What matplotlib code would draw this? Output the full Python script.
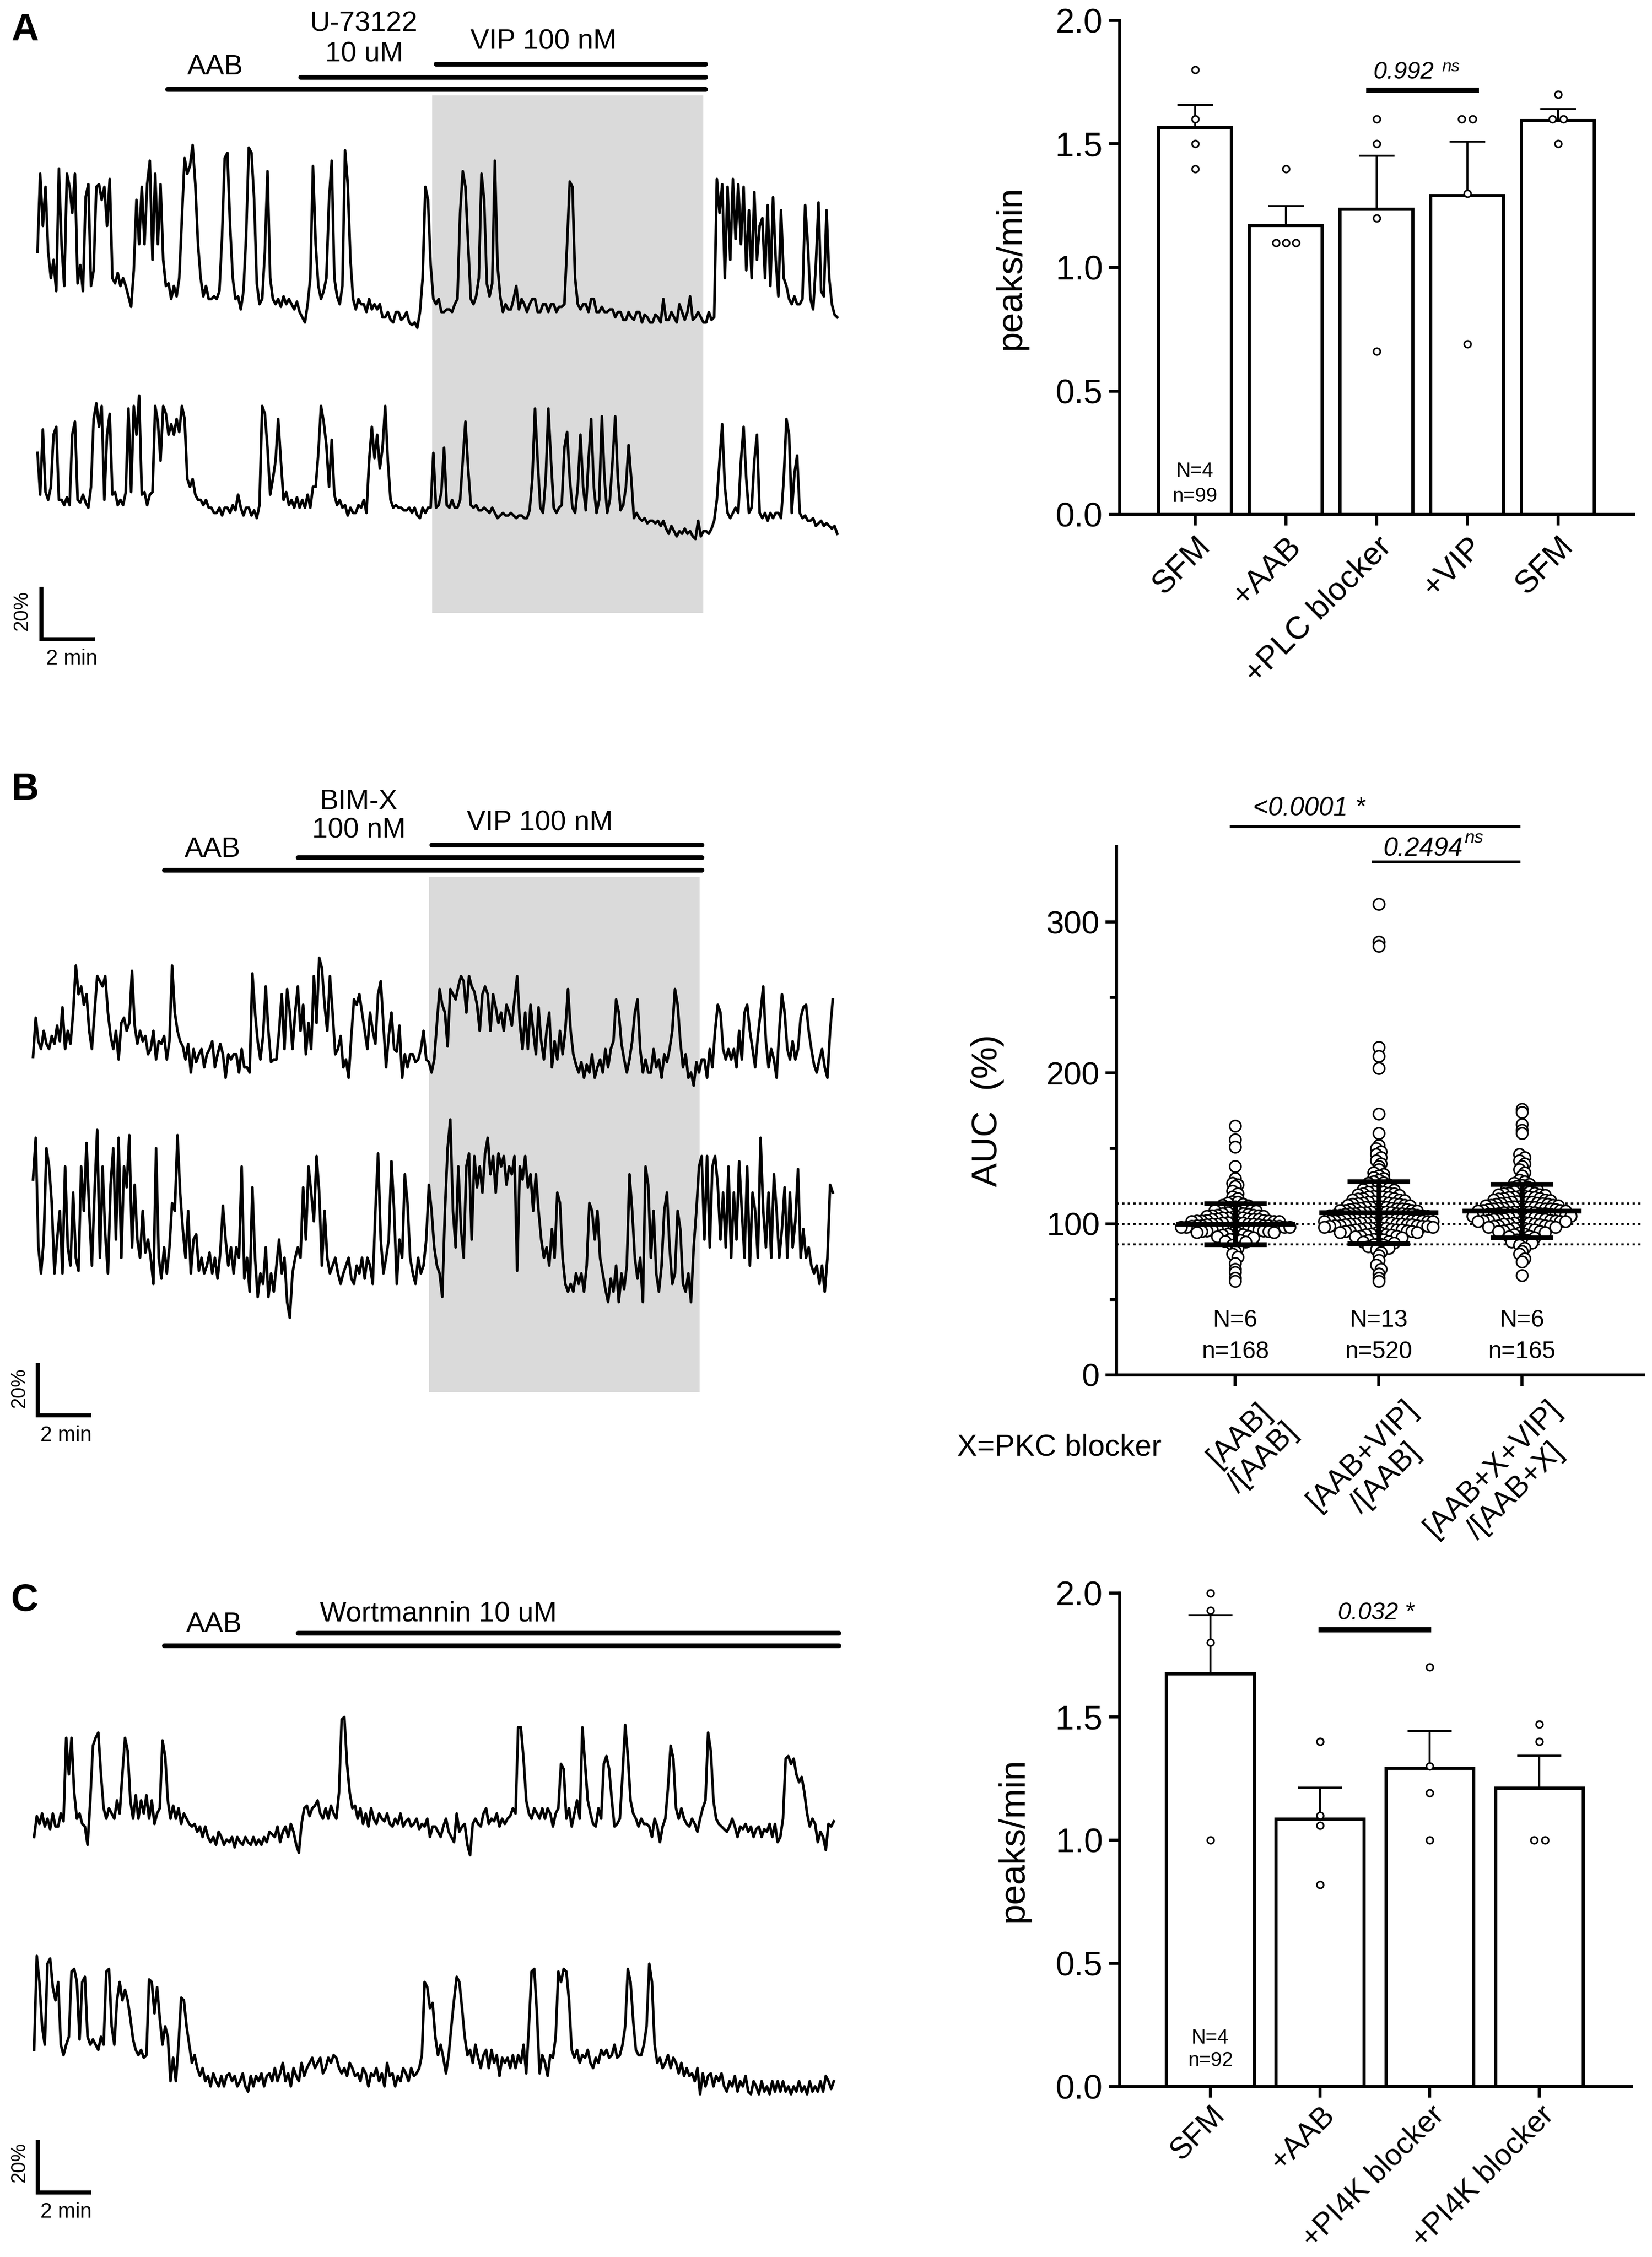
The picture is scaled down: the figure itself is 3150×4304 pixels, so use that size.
import numpy as np
import matplotlib
matplotlib.use('Agg')
import matplotlib.pyplot as plt
from matplotlib.transforms import blended_transform_factory, ScaledTranslation

plt.rcParams['font.family'] = ['Liberation Sans', 'DejaVu Sans']

# ---------------- calcium traces (% change, one sample every 0.1 min) ----------------
DT = 0.1

a_top = [30, 60, 40, 55, 30, 20, 27, 15, 62, 33,
         17, 60, 55, 45, 60, 18, 25, 15, 51, 56,
         17, 23, 55, 56, 50, 55, 40, 58, 20, 18,
         22, 17, 20, 17, 13, 9, 23, 50, 33, 55,
         33, 56, 65, 27, 60, 33, 56, 27, 17, 18,
         12, 17, 13, 20, 43, 66, 60, 63, 71, 56,
         33, 20, 13, 17, 12, 12, 13, 12, 15, 36,
         66, 68, 40, 20, 12, 13, 8, 15, 36, 70,
         68, 50, 18, 10, 12, 30, 61, 20, 12, 10,
         12, 9, 13, 10, 12, 10, 8, 11, 7, 5,
         3, 10, 20, 63, 33, 17, 12, 15, 20, 50,
         65, 20, 13, 10, 17, 69, 56, 27, 12, 8,
         12, 10, 10, 7, 12, 8, 10, 8, 10, 5,
         5, 7, 4, 3, 7, 7, 4, 5, 7, 3,
         2, 3, 1, 7, 20, 55, 50, 25, 12, 10,
         12, 7, 7, 8, 8, 7, 10, 12, 45, 61,
         55, 33, 12, 10, 13, 20, 60, 50, 18, 13,
         18, 65, 25, 13, 7, 10, 8, 8, 12, 17,
         8, 12, 10, 7, 10, 12, 12, 7, 7, 10,
         10, 7, 10, 10, 7, 9, 9, 10, 33, 57,
         55, 20, 10, 8, 10, 10, 7, 12, 12, 7,
         7, 9, 7, 7, 8, 8, 5, 7, 7, 4,
         4, 7, 5, 4, 7, 7, 3, 6, 5, 3,
         3, 6, 5, 3, 12, 4, 4, 7, 5, 3,
         10, 7, 4, 7, 13, 4, 5, 7, 5, 3,
         3, 7, 4, 5, 58, 45, 56, 20, 55, 27,
         58, 35, 56, 33, 55, 23, 46, 20, 53, 27,
         40, 43, 20, 48, 17, 51, 27, 13, 46, 20,
         17, 12, 10, 13, 10, 10, 12, 48, 33, 12,
         8, 25, 49, 15, 13, 46, 20, 10, 6, 5]

a_bottom = [33, 17, 42, 18, 15, 20, 40, 43, 15, 15,
            13, 16, 13, 40, 45, 15, 14, 17, 14, 12,
            20, 46, 52, 43, 51, 15, 40, 48, 17, 18,
            13, 15, 13, 18, 50, 18, 51, 40, 55, 17,
            18, 13, 17, 18, 51, 45, 30, 51, 48, 40,
            44, 40, 46, 41, 51, 46, 23, 20, 23, 17,
            15, 15, 13, 15, 12, 12, 10, 10, 12, 9,
            12, 12, 10, 13, 11, 17, 12, 9, 12, 12,
            9, 11, 8, 13, 51, 48, 35, 17, 23, 30,
            46, 30, 15, 18, 13, 15, 12, 16, 12, 15,
            12, 17, 12, 20, 20, 33, 51, 45, 36, 20,
            38, 17, 13, 15, 12, 13, 9, 12, 10, 10,
            13, 12, 15, 10, 30, 43, 31, 40, 27, 35,
            51, 30, 15, 12, 13, 12, 12, 11, 11, 12,
            10, 12, 9, 8, 12, 10, 12, 12, 33, 12,
            13, 18, 35, 13, 12, 15, 12, 12, 15, 30,
            45, 27, 13, 12, 13, 11, 11, 12, 11, 10,
            12, 10, 8, 9, 10, 9, 9, 10, 9, 8,
            9, 9, 8, 8, 11, 23, 50, 30, 12, 10,
            23, 50, 30, 12, 10, 12, 13, 35, 41, 23,
            12, 10, 20, 40, 20, 11, 30, 46, 20, 10,
            15, 47, 23, 10, 15, 30, 47, 23, 11, 13,
            20, 36, 23, 8, 10, 8, 7, 8, 6, 7,
            7, 6, 7, 5, 7, 4, 2, 5, 3, 1,
            3, 2, 4, 2, 3, 1, 0, 7, 1, 3,
            3, 2, 4, 7, 15, 30, 44, 20, 10, 8,
            10, 12, 10, 30, 43, 23, 10, 12, 30, 40,
            10, 8, 10, 7, 10, 8, 10, 10, 8, 23,
            46, 40, 10, 25, 32, 10, 8, 9, 7, 7,
            8, 5, 6, 7, 5, 6, 5, 4, 5, 2]

b_top = [11, 26, 17, 14, 21, 16, 14, 19, 16, 23,
         17, 30, 14, 21, 16, 28, 46, 35, 38, 31,
         35, 21, 14, 28, 42, 40, 38, 42, 28, 19,
         14, 21, 10, 24, 26, 21, 24, 44, 23, 16,
         21, 17, 19, 12, 14, 21, 10, 17, 16, 19,
         10, 17, 46, 28, 21, 17, 15, 10, 16, 5,
         14, 9, 12, 14, 7, 12, 14, 17, 7, 12,
         16, 12, 3, 12, 10, 12, 12, 5, 14, 7,
         7, 5, 43, 28, 17, 10, 19, 38, 21, 9,
         10, 10, 21, 35, 14, 37, 28, 14, 28, 38,
         21, 31, 12, 24, 14, 42, 24, 49, 45, 31,
         21, 42, 28, 12, 14, 19, 7, 10, 3, 19,
         33, 31, 35, 28, 21, 14, 28, 21, 16, 35,
         40, 23, 7, 19, 28, 14, 13, 23, 3, 12,
         7, 12, 12, 9, 10, 14, 21, 10, 9, 5,
         10, 24, 37, 31, 28, 15, 37, 35, 33, 38,
         42, 40, 28, 42, 38, 36, 31, 21, 35, 38,
         35, 21, 35, 30, 24, 28, 21, 31, 28, 23,
         33, 42, 24, 14, 28, 14, 31, 21, 12, 30,
         17, 10, 21, 28, 7, 17, 10, 21, 12, 21,
         37, 21, 12, 8, 5, 9, 3, 8, 5, 12,
         3, 7, 10, 5, 14, 7, 14, 17, 33, 28,
         16, 10, 5, 10, 17, 28, 33, 14, 5, 10,
         5, 5, 14, 7, 10, 3, 12, 9, 14, 21,
         37, 31, 17, 7, 12, 3, 5, 0, 9, 5,
         10, 10, 3, 14, 7, 21, 31, 28, 14, 10,
         14, 10, 14, 7, 21, 10, 28, 31, 21, 14,
         7, 19, 28, 38, 17, 7, 14, 10, 3, 21,
         35, 28, 14, 10, 17, 10, 14, 26, 30, 31,
         21, 14, 8, 5, 10, 14, 7, 3, 21, 33]

b_bottom = [53, 69, 27, 17, 30, 65, 58, 44, 17, 30,
            41, 17, 58, 27, 20, 48, 23, 18, 58, 41,
            67, 41, 20, 48, 72, 23, 58, 32, 17, 51,
            65, 30, 69, 23, 58, 50, 70, 27, 51, 30,
            23, 41, 25, 30, 23, 13, 65, 23, 15, 27,
            17, 27, 44, 41, 70, 48, 34, 23, 41, 17,
            30, 32, 18, 23, 17, 20, 25, 17, 23, 15,
            25, 43, 30, 20, 27, 17, 27, 23, 58, 15,
            23, 10, 50, 23, 8, 17, 13, 27, 8, 17,
            10, 20, 30, 17, 23, 6, 0, 17, 23, 27,
            23, 50, 30, 58, 48, 37, 62, 48, 20, 41,
            23, 17, 20, 23, 17, 13, 17, 20, 23, 15,
            13, 20, 17, 23, 15, 23, 20, 13, 41, 63,
            30, 17, 23, 30, 60, 41, 13, 30, 23, 55,
            44, 23, 17, 13, 23, 17, 20, 30, 51, 41,
            27, 20, 17, 8, 41, 65, 76, 41, 27, 58,
            34, 23, 58, 63, 30, 62, 50, 58, 48, 63,
            69, 55, 62, 48, 63, 58, 62, 51, 58, 55,
            62, 18, 58, 53, 62, 50, 55, 41, 55, 41,
            30, 23, 27, 20, 34, 23, 48, 44, 23, 13,
            10, 13, 10, 17, 13, 17, 10, 20, 44, 41,
            30, 41, 23, 17, 11, 6, 15, 10, 20, 6,
            17, 11, 20, 55, 41, 23, 15, 23, 6, 58,
            51, 23, 41, 17, 10, 20, 41, 48, 27, 13,
            17, 41, 34, 13, 10, 17, 6, 27, 41, 58,
            62, 30, 62, 27, 58, 62, 51, 30, 48, 27,
            58, 23, 48, 30, 60, 41, 23, 58, 20, 48,
            41, 23, 69, 41, 27, 48, 23, 55, 41, 23,
            34, 50, 23, 48, 27, 37, 57, 23, 34, 23,
            27, 20, 17, 20, 13, 20, 10, 23, 51, 48]

c_top = [6, 14, 11, 15, 10, 13, 9, 15, 10, 10,
         15, 12, 44, 30, 44, 23, 13, 15, 11, 10,
         3, 20, 41, 44, 46, 30, 17, 13, 17, 15,
         13, 20, 15, 30, 44, 39, 20, 13, 22, 13,
         20, 15, 22, 13, 20, 11, 15, 17, 43, 37,
         20, 13, 18, 13, 17, 11, 15, 13, 11, 10,
         11, 8, 10, 6, 10, 6, 4, 6, 3, 8,
         6, 3, 5, 4, 6, 2, 6, 4, 3, 6,
         4, 3, 6, 3, 5, 3, 6, 4, 8, 7,
         6, 10, 4, 8, 10, 6, 11, 8, 3, 0,
         11, 17, 18, 14, 17, 18, 20, 15, 13, 17,
         13, 18, 15, 13, 23, 51, 52, 34, 23, 17,
         18, 13, 17, 11, 15, 10, 17, 13, 11, 15,
         13, 12, 15, 11, 10, 13, 11, 15, 10, 12,
         13, 10, 11, 13, 9, 11, 10, 13, 6, 10,
         10, 8, 6, 10, 13, 8, 6, 4, 15, 8,
         10, 11, 3, -1, 11, 13, 11, 10, 15, 17,
         11, 13, 12, 15, 10, 13, 11, 13, 14, 17,
         15, 48, 48, 36, 20, 15, 13, 17, 15, 13,
         17, 13, 17, 15, 10, 15, 17, 34, 32, 13,
         17, 10, 15, 20, 13, 48, 34, 20, 15, 11,
         10, 17, 13, 34, 37, 32, 20, 10, 11, 13,
         30, 49, 37, 20, 15, 13, 10, 13, 11, 11,
         10, 6, 13, 10, 4, 10, 13, 25, 41, 36,
         17, 13, 17, 13, 11, 10, 13, 11, 8, 13,
         17, 20, 46, 39, 20, 13, 11, 10, 9, 8,
         10, 13, 10, 6, 10, 9, 11, 8, 10, 6,
         9, 10, 6, 9, 8, 11, 6, 11, 4, 6,
         13, 36, 37, 34, 36, 30, 27, 29, 23, 15,
         10, 13, 11, 4, 8, 6, 1, 11, 10, 12]

c_bottom = [19, 55, 45, 28, 21, 52, 54, 43, 38, 45,
            21, 17, 21, 24, 49, 50, 45, 23, 45, 47,
            24, 21, 23, 21, 19, 24, 21, 49, 50, 28,
            21, 38, 45, 38, 42, 38, 31, 23, 19, 17,
            19, 16, 17, 46, 45, 33, 43, 31, 21, 28,
            24, 7, 16, 7, 21, 39, 38, 28, 21, 14,
            17, 12, 9, 12, 7, 9, 5, 10, 7, 5,
            9, 5, 9, 10, 7, 9, 5, 7, 10, 5,
            3, 9, 5, 9, 7, 10, 5, 9, 10, 7,
            12, 7, 10, 14, 7, 10, 5, 12, 9, 7,
            14, 9, 12, 14, 16, 12, 14, 16, 10, 12,
            16, 14, 17, 16, 12, 10, 12, 9, 14, 12,
            9, 10, 7, 12, 10, 5, 10, 9, 12, 7,
            10, 5, 14, 9, 10, 5, 9, 7, 12, 10,
            7, 12, 9, 10, 12, 17, 45, 43, 35, 37,
            24, 17, 21, 16, 10, 17, 28, 38, 47, 45,
            35, 24, 17, 19, 14, 21, 16, 12, 17, 19,
            12, 19, 14, 17, 9, 16, 14, 16, 12, 17,
            12, 17, 14, 21, 10, 28, 49, 50, 33, 10,
            17, 14, 9, 17, 16, 24, 49, 45, 50, 49,
            38, 19, 16, 19, 14, 17, 16, 19, 14, 12,
            16, 14, 19, 17, 19, 16, 17, 21, 16, 17,
            21, 28, 50, 45, 30, 19, 17, 17, 21, 28,
            52, 45, 21, 14, 16, 12, 14, 17, 12, 16,
            14, 10, 14, 9, 12, 9, 10, 7, 12, 2,
            10, 5, 9, 10, 5, 9, 7, 10, 5, 3,
            7, 5, 9, 3, 7, 5, 9, 3, 2, 7,
            5, 2, 7, 3, 5, 2, 7, 3, 7, 3,
            7, 3, 5, 2, 5, 3, 7, 3, 5, 2,
            7, 3, 5, 3, 7, 3, 9, 7, 4, 7]

# drug application start times (min); all run to the end time
a_starts = [4.85, 9.83, 14.9]
a_end = 24.97
b_starts = [4.91, 9.9, 14.9]
b_end = 25.0
c_starts = [4.87, 9.86]
c_end = 30.07
a_shade = (14.75, 24.9)
b_shade = (14.81, 24.92)

# ---------------- bar charts ----------------
a_labels = ['SFM', '+AAB', '+PLC blocker', '+VIP', 'SFM']
a_mean = [1.567, 1.169, 1.235, 1.291, 1.594]
a_sem = [0.091, 0.080, 0.217, 0.219, 0.046]
a_pts = [[1.8, 1.6, 1.5, 1.4], [1.4, 1.1, 1.1, 1.1], [1.6, 1.5, 1.2, 0.66],
         [1.6, 1.6, 1.3, 0.69], [1.7, 1.6, 1.6, 1.5]]

c_labels = ['SFM', '+AAB', '+PI4K blocker', '+PI4K blocker']
c_mean = [1.673, 1.084, 1.290, 1.211]
c_sem = [0.239, 0.129, 0.152, 0.130]
c_pts = [[2.0, 1.93, 1.8, 1.0], [1.4, 1.1, 1.06, 0.82], [1.7, 1.3, 1.19, 1.0],
         [1.47, 1.4, 1.0, 1.0]]

# ---------------- AUC scatter ----------------
b_labels = ['[AAB]\n/[AAB]', '[AAB+VIP]\n/[AAB]', '[AAB+X+VIP]\n/[AAB+X]']
b_N = ['N=6', 'N=13', 'N=6']
b_n = ['n=168', 'n=520', 'n=165']
b_mean = [100.0, 107.5, 108.6]
b_sd = [13.5, 20.5, 17.8]
b_g1 = [165, 156, 151, 138, 130, 127, 126, 125, 122, 120, 118, 117,
        115, 114.5, 114, 113, 112.5, 112,
        111.5, 111, 110.5, 110, 110, 109.5, 109, 109, 108.5,
        108, 108, 107.5, 107, 107, 106.5, 106, 106, 105.5, 105.5, 105, 105,
        104.5, 104.5, 104, 104, 104, 103.5, 103.5, 103, 103, 103, 102.5, 102.5,
        102, 102, 102, 101.5, 101.5, 101.5,
        101, 101, 101, 100.5, 100.5, 100, 100, 100, 100, 99.5, 99.5, 99, 99, 99,
        99, 98.5, 98.5, 98.5, 98, 98, 98, 98,
        97.5, 97.5, 97, 97, 97, 96.5, 96.5, 96, 96, 96, 95.5, 95.5, 95, 95, 94.5, 94.5,
        94, 94, 93.5, 93, 92.5, 92, 91.5, 91,
        90.5, 90, 89, 88.5, 88,
        86, 84, 82, 80, 78, 74, 70, 68, 64, 62]
b_g2 = [312, 287, 284, 217, 211, 203, 173, 160, 152, 150, 148, 146, 144, 142, 140, 138,
        136, 134, 133, 132, 131, 130,
        129, 128, 127.5, 127, 126,
        125.5, 125, 124.5, 124, 123.5, 123, 122.5,
        122, 121.5, 121, 121, 120.5, 120, 120, 119.5, 119,
        118.5, 118.5, 118, 118, 117.5, 117, 117, 116.5, 116, 116, 115.5,
        115, 115, 114.5, 114.5, 114, 114, 113.5, 113.5, 113, 113, 112.5, 112.5, 112,
        111.5, 111.5, 111, 111, 111, 110.5, 110.5, 110, 110, 110, 109.5, 109.5, 109, 109,
        109, 108.5,
        108, 108, 108, 108, 107.5, 107.5, 107.5, 107, 107, 107, 107, 106.5, 106.5, 106.5,
        106, 106, 106, 105.5, 105.5, 105,
        104.5, 104.5, 104.5, 104, 104, 104, 104, 103.5, 103.5, 103.5, 103, 103, 103,
        102.5, 102.5, 102.5, 102, 102, 102, 101.5, 101.5, 101.5,
        101, 101, 101, 101, 100.5, 100.5, 100.5, 100, 100, 100, 100, 99.5, 99.5, 99.5,
        99, 99, 99, 98.5, 98.5, 98.5, 98, 98,
        97.5, 97.5, 97, 97, 97, 96.5, 96.5, 96, 96, 96, 95.5, 95.5, 95, 95, 94.5, 94.5,
        94, 94, 93.5, 93, 93, 92.5, 92, 92, 91.5, 91,
        90.5, 90, 89.5, 89, 88.5, 88, 87.5,
        87, 86.5, 86, 85, 84,
        83, 81, 79, 76, 73, 70, 67, 64, 62]
b_g3 = [176, 174, 166, 162, 160, 146, 144, 142, 140, 138, 136, 134, 132,
        129, 128, 127, 126.5,
        125.5, 125, 124.5, 124, 123.5, 123, 122.5,
        122, 121.5, 121.5, 121, 120.5, 120.5, 120, 119.5, 119.5, 119,
        118.5, 118.5, 118, 118, 117.5, 117.5, 117, 117, 116.5, 116, 116, 115.5,
        115, 115, 114.5, 114.5, 114.5, 114, 114, 113.5, 113.5, 113, 113, 112.5, 112.5,
        112, 112,
        111.5, 111.5, 111.5, 111, 111, 111, 110.5, 110.5, 110.5, 110, 110, 110, 109.5,
        109.5, 109, 109, 108.5, 108.5,
        108, 108, 108, 108, 107.5, 107.5, 107.5, 107, 107, 107, 106.5, 106.5, 106.5,
        106, 106, 106, 105.5, 105.5, 105, 105,
        104.5, 104.5, 104.5, 104, 104, 104, 103.5, 103.5, 103, 103, 103, 102.5, 102.5,
        102, 102, 101.5, 101.5, 101.5,
        101, 101, 100.5, 100.5, 100, 100, 100, 99.5, 99, 99, 98.5, 98.5, 98, 98,
        97.5, 97, 97, 96.5, 96, 96, 95.5, 95, 95, 94.5,
        94, 93.5, 93, 92, 91.5, 91,
        90, 89.5, 89, 88, 87.5,
        86, 84, 82, 80, 77, 75, 66]

# ==================== figure ====================
W, H, DPI = 3150, 4304, 275
fig = plt.figure(figsize=(W / DPI, H / DPI), dpi=DPI)
PX_MIN = 51.0    # px per minute on the traces
PX_PCT = 4.975   # px per % on the traces


def ftext(x, y, s, **kw):
    fig.text(x / W, 1 - y / H, s, **kw)


def trace_axes(top, height, x0):
    ax = fig.add_axes([0, 1 - (top + height) / H, 1700 / W, height / H])
    ax.set_xlim(-x0 / PX_MIN, (1700 - x0) / PX_MIN)
    ax.set_ylim(0, height / PX_PCT)
    ax.axis('off')
    return ax


def draw_traces(ax, traces, bases):
    for tr, b in zip(traces, bases):
        t = np.arange(len(tr)) * DT
        ax.plot(t, np.asarray(tr, float) + b, color='black', lw=1.3, zorder=2)


def draw_drugs(ax, starts, end, levels):
    tr = blended_transform_factory(ax.transData, ax.transAxes)
    for s, lv in zip(starts, levels):
        ax.plot([s, end], [lv, lv], color='black', lw=2.4, solid_capstyle='round',
                transform=tr, clip_on=False, zorder=3)


def draw_scalebar(ax, x, y):
    ax.plot([x, x, x + 2], [y + 20, y, y], color='black', lw=2.0,
            solid_joinstyle='miter', solid_capstyle='butt')


# ---- panel A traces ----
axA = trace_axes(0, 1300, 71.5)
axA.axvspan(a_shade[0], a_shade[1], 0.1008, 0.86, color='#dadada', lw=0, zorder=0)
draw_traces(axA, [a_top, a_bottom], [134.7, 54.7])
draw_drugs(axA, a_starts, a_end, [0.869, 0.887, 0.906])
draw_scalebar(axA, 0.15, 16.3)
ftext(410, 128, 'AAB', fontsize=14, ha='center', va='center')
ftext(694, 46, 'U-73122', fontsize=14, ha='center', va='center')
ftext(694, 104, '10 uM', fontsize=14, ha='center', va='center')
ftext(1036, 79, 'VIP 100 nM', fontsize=14, ha='center', va='center')
ftext(42, 1165, '20%', fontsize=10, rotation=90, ha='center', va='center')
ftext(137, 1256, '2 min', fontsize=10.5, ha='center', va='center')
ftext(21, 58, 'A', fontsize=19, fontweight='bold', ha='left', va='center')

# ---- panel B traces ----
axB = trace_axes(1450, 1350, 63)
axB.axvspan(b_shade[0], b_shade[1], 0.1074, 0.8356, color='#dadada', lw=0, zorder=0)
draw_traces(axB, [b_top, b_bottom], [146.7, 57.7])
draw_drugs(axB, b_starts, b_end, [0.845, 0.863, 0.881])
draw_scalebar(axB, 0.17, 20.4)
ftext(405, 1620, 'AAB', fontsize=14, ha='center', va='center')
ftext(684, 1529, 'BIM-X', fontsize=14, ha='center', va='center')
ftext(684, 1583, '100 nM', fontsize=14, ha='center', va='center')
ftext(1029, 1570, 'VIP 100 nM', fontsize=14, ha='center', va='center')
ftext(37, 2647, '20%', fontsize=10, rotation=90, ha='center', va='center')
ftext(126, 2737, '2 min', fontsize=10.5, ha='center', va='center')
ftext(21, 1506, 'B', fontsize=19, fontweight='bold', ha='left', va='center')

# ---- panel C traces ----
axC = trace_axes(2950, 1354, 65)
draw_traces(axC, [c_top, c_bottom], [155.0, 60.4])
draw_drugs(axC, c_starts, c_end, [0.861, 0.879])
draw_scalebar(axC, 0.13, 24.8)
ftext(408, 3098, 'AAB', fontsize=14, ha='center', va='center')
ftext(836, 3078, 'Wortmannin 10 uM', fontsize=14, ha='center', va='center')
ftext(37, 4124, '20%', fontsize=10, rotation=90, ha='center', va='center')
ftext(126, 4218, '2 min', fontsize=10.5, ha='center', va='center')
ftext(21, 3052, 'C', fontsize=19, fontweight='bold', ha='left', va='center')


# ---- right-hand plots ----
def style_axes(ax, labelsize):
    for s in ['top', 'right']:
        ax.spines[s].set_visible(False)
    for s in ['left', 'bottom']:
        ax.spines[s].set_linewidth(1.5)
    ax.tick_params(axis='both', which='major', length=5.5, width=1.5,
                   labelsize=labelsize, pad=3)


def bar_plot(rect, labels, means, sems, pts, jit, xlim, capsize, xlabsize):
    ax = fig.add_axes(rect)
    x = np.arange(len(labels))
    ax.bar(x, means, width=0.8, facecolor='white', edgecolor='black',
           linewidth=1.6, zorder=2)
    ax.errorbar(x, means, yerr=[np.zeros(len(x)), sems], fmt='none', ecolor='black',
                elinewidth=1.0, capsize=capsize, capthick=1.0, zorder=3)
    for i, (p, j) in enumerate(zip(pts, jit)):
        ax.plot(i + np.asarray(j), p, 'o', ms=3.4, mfc='white', mec='black',
                mew=0.8, zorder=4, clip_on=False)
    ax.set_xlim(*xlim)
    ax.set_ylim(0, 2.0)
    ax.set_yticks([0, 0.5, 1.0, 1.5, 2.0])
    ax.set_yticklabels(['0.0', '0.5', '1.0', '1.5', '2.0'])
    ax.set_xticks(x)
    style_axes(ax, 17)
    ax.set_xticklabels(labels, rotation=45, ha='right', rotation_mode='anchor',
                       fontsize=xlabsize)
    ax.set_ylabel('peaks/min', fontsize=18)
    return ax


a_jit = [[0, 0, 0, 0], [0, -0.11, 0, 0.11], [0, 0, 0, 0], [-0.06, 0.06, 0, 0],
         [0, -0.06, 0.06, 0]]
axRA = bar_plot([0.6778, 0.7720, 0.3111, 0.2190], a_labels, a_mean, a_sem, a_pts,
                a_jit, (-0.83, 4.835), 9, 16)
axRA.yaxis.set_label_coords(-0.179, 0.5)
axRA.plot([1.885, 3.13], [1.717, 1.717], color='black', lw=2.6, clip_on=False,
          solid_capstyle='butt')
axRA.text(2.63, 1.763, '0.992', fontsize=12, style='italic', ha='right', va='baseline')
axRA.text(2.72, 1.794, 'ns', fontsize=8.5, style='italic', ha='left', va='baseline')
axRA.text(0, 0.174, 'N=4', fontsize=10, ha='center', va='center')
axRA.text(0, 0.073, 'n=99', fontsize=10, ha='center', va='center')

c_jit = [[0, 0, 0, 0], [0, 0, 0, 0], [0, 0, 0, 0], [0, 0, -0.05, 0.05]]
axRC = bar_plot([0.6778, 0.0754, 0.3098, 0.2187], c_labels, c_mean, c_sem, c_pts,
                c_jit, (-0.827, 3.84), 11, 15)
axRC.tick_params(axis='x', pad=1.5)
axRC.yaxis.set_label_coords(-0.175, 0.5)
axRC.plot([0.984, 2.013], [1.851, 1.851], color='black', lw=2.6, clip_on=False,
          solid_capstyle='butt')
axRC.text(1.51, 1.894, '0.032 *', fontsize=12, style='italic', ha='center', va='baseline')
axRC.text(0, 0.196, 'N=4', fontsize=10, ha='center', va='center')
axRC.text(0, 0.105, 'n=92', fontsize=10, ha='center', va='center')


def swarm_offsets(vals, row_h, step):
    vals = np.asarray(vals, float)
    rows = np.floor(vals / row_h).astype(int)
    offs = np.zeros(len(vals))
    for r in np.unique(rows):
        idx = np.where(rows == r)[0]
        k = len(idx)
        slots = np.arange(k) - (k - 1) / 2.0
        order = np.argsort(np.abs(slots), kind='stable')
        offs[idx] = slots[order] * step
    return offs


axRB = fig.add_axes([0.6760, 0.3909, 0.3189, 0.2340])
for y in [b_mean[0] - b_sd[0], b_mean[0], b_mean[0] + b_sd[0]]:
    axRB.axhline(y, color='black', lw=1.0, ls=(0, (1.2, 1.6)), zorder=1)
for i, vals in enumerate([b_g1, b_g2, b_g3]):
    offs = swarm_offsets(vals, 3.5, 0.036)
    axRB.scatter(i + offs, vals, s=32, facecolor='white', edgecolor='black',
                 linewidth=0.8, zorder=2, clip_on=False)
    m, sd = b_mean[i], b_sd[i]
    axRB.plot([i - 0.415, i + 0.415], [m, m], color='black', lw=2.4, zorder=4,
              solid_capstyle='butt')
    axRB.plot([i, i], [m - sd, m + sd], color='black', lw=2.4, zorder=4)
    for yy in (m - sd, m + sd):
        axRB.plot([i - 0.217, i + 0.217], [yy, yy], color='black', lw=2.4, zorder=4,
                  solid_capstyle='butt')
    axRB.text(i, 36, b_N[i], fontsize=12, ha='center', va='center')
    axRB.text(i, 15, b_n[i], fontsize=12, ha='center', va='center')
axRB.set_xlim(-0.827, 2.85)
axRB.set_ylim(0, 350)
axRB.set_yticks([0, 100, 200, 300])
axRB.set_yticks([50, 150, 250], minor=True)
axRB.set_xticks([0, 1, 2])
style_axes(axRB, 16)
axRB.set_xticklabels(b_labels, rotation=45, ha='right', va='top',
                     rotation_mode='anchor', fontsize=15, multialignment='center')
shift = ScaledTranslation(0.17, -0.02, fig.dpi_scale_trans)
for lbl in axRB.get_xticklabels():
    lbl.set_transform(lbl.get_transform() + shift)
axRB.tick_params(axis='y', which='minor', length=3.5, width=1.5)
axRB.set_ylabel('AUC  (%)', fontsize=18)
axRB.yaxis.set_label_coords(-0.2135, 0.5)
axRB.plot([-0.03, 1.98], [363.4, 363.4], color='black', lw=1.4, clip_on=False)
axRB.plot([0.96, 1.98], [340, 340], color='black', lw=1.4, clip_on=False)
axRB.text(0.515, 370.8, '<0.0001 *', fontsize=13, style='italic', ha='center',
          va='baseline')
axRB.text(1.59, 344, '0.2494', fontsize=13, style='italic', ha='right', va='baseline')
axRB.text(1.60, 352.5, 'ns', fontsize=9, style='italic', ha='left', va='baseline')
ftext(2020, 2761, 'X=PKC blocker', fontsize=15, ha='center', va='center')

fig.savefig('out.png', dpi=DPI)
